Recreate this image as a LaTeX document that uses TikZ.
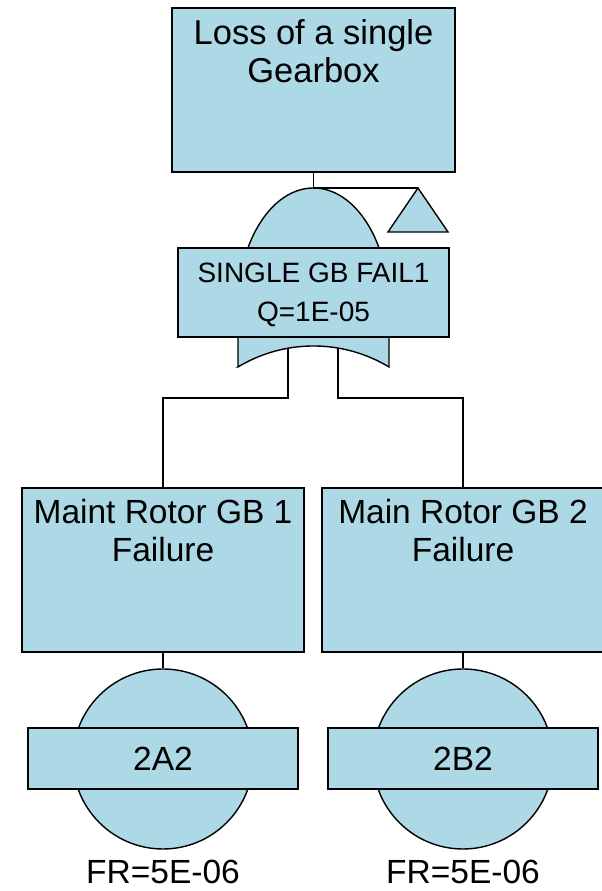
\documentclass[tikz,border=0pt]{standalone}
\usepackage{fontspec}
\setmainfont{Liberation Sans}
\usepackage{xcolor}
\definecolor{gbblue}{RGB}{173,216,230}
\tikzset{
  evbox/.style={draw, fill=gbblue, line width=1.4pt, minimum width=282pt, minimum height=164pt, inner sep=0pt},
  evtext/.style={align=center, inner sep=0pt, font=\fontsize{33.5}{38}\selectfont},
  gatetext/.style={align=center, inner sep=0pt, font=\fontsize{28}{39}\selectfont},
  basicev/.style={circle, draw, fill=gbblue, line width=1.4pt, minimum size=180pt, inner sep=0pt},
  idbox/.style={draw, fill=gbblue, line width=1.4pt, minimum width=270pt, minimum height=61pt, inner sep=0pt, font=\fontsize{33.5}{38}\selectfont},
  wire/.style={line width=1.3pt}
}

\begin{document}
\begin{tikzpicture}[x=1pt,y=1pt]
            \useasboundingbox (0,0) rectangle (602,891);
            % top event
            \node[evbox, minimum width=283pt] (topev) at (313.5,801) {};
            \node[evtext, anchor=north, font=\fontsize{34.5}{38}\selectfont] (toptxt) at (313.5,872) {Loss of a single\\Gearbox};
            % OR gate
            \filldraw[fill=gbblue, line width=1.4pt] (238,524) -- (238,584)
                arc[start angle=180, end angle=0, x radius=75.5, y radius=119]
                -- (389,524) arc[start angle=58.9, end angle=121.1, radius=146.2] -- cycle;
            \coordinate (gtop) at (313.5,703);
            \coordinate (gl) at (288,543);
            \coordinate (gr) at (338,543);
            \node[draw, fill=gbblue, line width=1.4pt, minimum width=271pt, minimum height=89pt] (gatebox) at (313.5,598.5) {};
            \node[gatetext, anchor=north] (gatetxt) at (313.5,628) {SINGLE GB FAIL1\\Q=1E-05};
            % transfer triangle
            \coordinate (xfer) at (418,703);
            \filldraw[fill=gbblue, line width=1.4pt] (xfer) -- (448,659) -- (388,659) -- cycle;
            \draw[wire] (topev.south) -- (gtop) -- (xfer);
            % the two gearboxes
            \foreach \x/\nm/\lbl/\id in {163/A/Maint Rotor GB 1/2A2, 463/B/Main Rotor GB 2/2B2}
            {
                \node[evbox] (gb\nm) at (\x,321) {};
                \node[evtext, anchor=north] (gb\nm txt) at (\x,391.6) {\lbl\\Failure};
                \node[basicev] (be\nm) at (\x,132) {};
                \node[idbox] (id\nm) at (\x,132.5) {\id};
                \node[evtext, anchor=base] (fr\nm) at (\x,8) {FR=5E-06};
                \draw[wire] (gb\nm.south) -- (be\nm.north);
            }
            \draw[wire] (gl) -- ++(0,-50) -| (gbA.north);
            \draw[wire] (gr) -- ++(0,-50) -| (gbB.north);
        \end{tikzpicture}
\end{document}
